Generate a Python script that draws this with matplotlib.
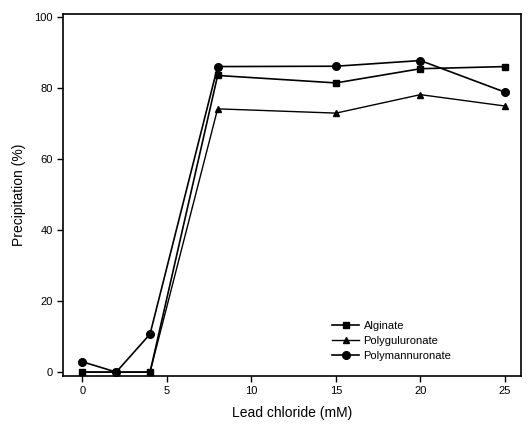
import matplotlib
matplotlib.use("Agg")
import matplotlib.pyplot as plt

plt.rcParams['font.family'] = ['Liberation Sans', 'DejaVu Sans']

x = [0, 2, 4, 8, 15, 20, 25]
alginate = [0, 0, 0, 83.5, 81.4, 85.4, 86.0]
polyguluronate = [0, 0, 0, 74.1, 72.9, 78.1, 74.9]
polymannuronate = [2.9, 0, 10.7, 86.0, 86.1, 87.7, 78.8]
xticks = [0, 5, 10, 15, 20, 25]
yticks = [0, 20, 40, 60, 80, 100]

fig = plt.figure(figsize=(5.28, 4.25), dpi=100)
ax = fig.add_axes([63/528, 1-376/425, (521-63)/528, (376-14)/425])

ax.plot(x, alginate, color='black', marker='s', markersize=5, lw=1.2, label='Alginate')
ax.plot(x, polyguluronate, color='black', marker='^', markersize=5, lw=1.0, label='Polyguluronate')
ax.plot(x, polymannuronate, color='black', marker='o', markersize=5.5, lw=1.2, label='Polymannuronate')

ax.set_xlim(-1.15, 25.95)
ax.set_ylim(-1.1, 100.8)
ax.set_xticks(xticks)
ax.set_yticks(yticks)
ax.tick_params(labelsize=8, length=4, width=1, direction='out')
for s in ax.spines.values():
    s.set_linewidth(1.2)
ax.set_xlabel('Lead chloride (mM)', fontsize=10, labelpad=7)
ax.set_ylabel('Precipitation (%)', fontsize=10, labelpad=6)
leg = ax.legend(loc='lower right', bbox_to_anchor=(0.87, 0.015), frameon=False, fontsize=8,
                handlelength=2.4, labelspacing=0.45, handletextpad=0.4)

fig.savefig('out.png', dpi=100)
